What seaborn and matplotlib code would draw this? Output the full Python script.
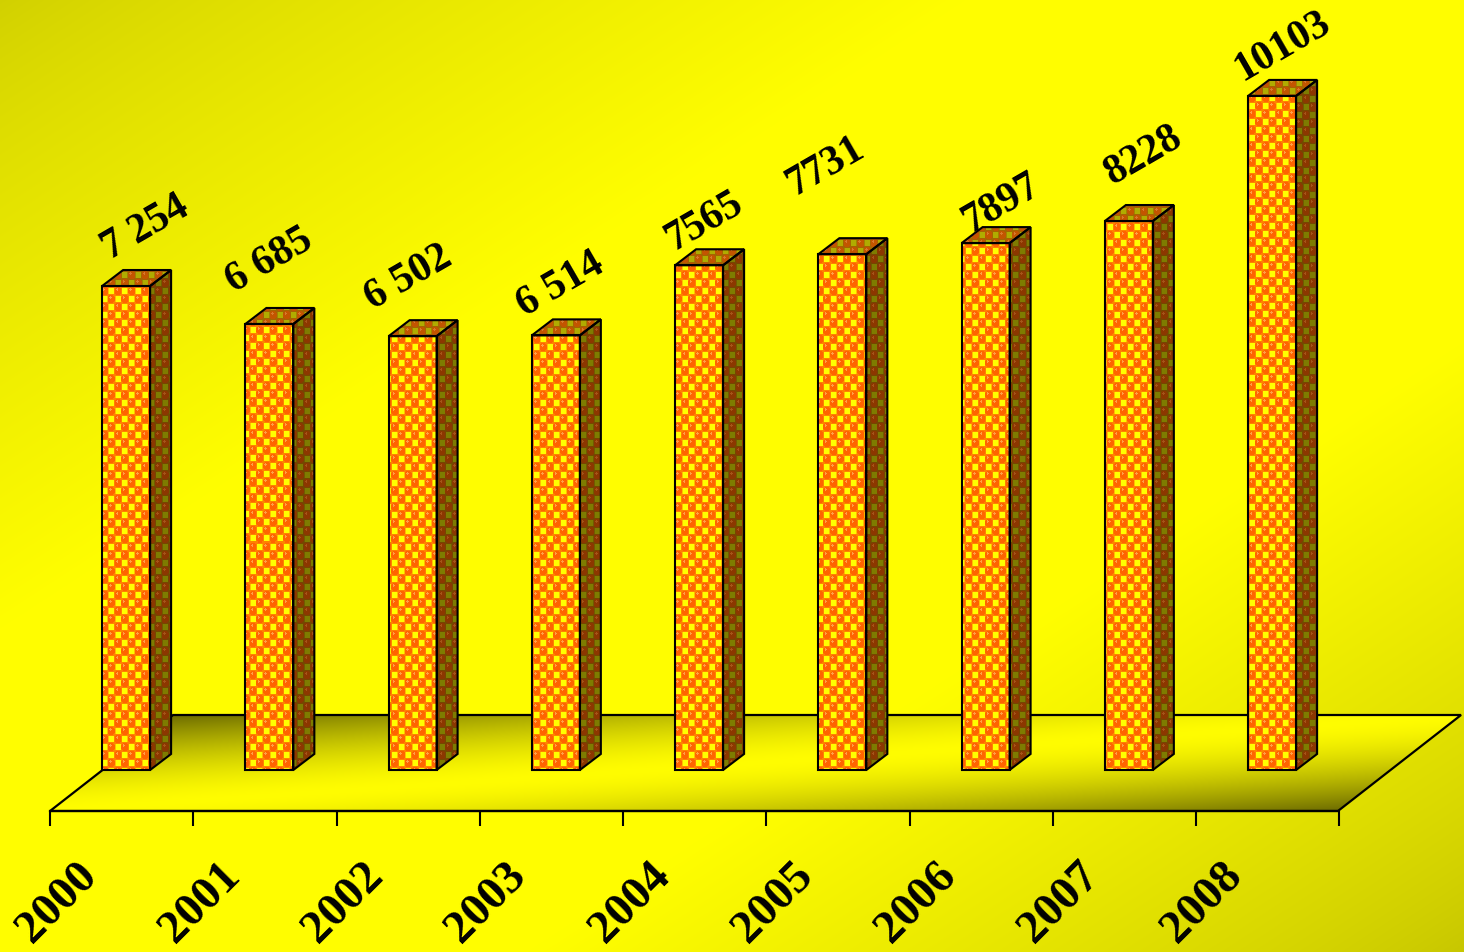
import numpy as np
import pandas as pd
import matplotlib
matplotlib.use("Agg")
import matplotlib.pyplot as plt
from matplotlib.patches import Polygon, Rectangle
import seaborn as sns

# ---------------- data ----------------
years = ["2000", "2001", "2002", "2003", "2004", "2005", "2006", "2007", "2008"]
values = [7254, 6685, 6502, 6514, 7565, 7731, 7897, 8228, 10103]
value_labels = ["7 254", "6 685", "6 502", "6 514", "7565", "7731", "7897", "8228", "10103"]

# ---------------- layout / style ----------------
W, H, DPI = 1464, 953, 100
XLIM = (-0.8803, 9.3396)
YLIM = (-2728.0, 11556.0)
BAR_W = 0.335
DEPTH_X, DEPTH_Y = 0.1466, 240.0          # bar 3-D depth
FLOOR_FRONT_Y, FLOOR_BACK_Y = -614.5, 824.3
FLOOR_LEFT, FLOOR_RIGHT = -0.531, 8.460
FLOOR_DX = 0.859
# label placement nudges (pixels right / up from the bar's top-front centre)
label_nudge_px = [(19, 59), (0, 64), (-4, 59), (5, 51), (5, 45),
                  (-17, 89), (16, 41), (15, 66), (11, 51)]

sns.set_theme(style="white")
plt.rcParams['font.family'] = ['Liberation Serif', 'DejaVu Serif']

fig = plt.figure(figsize=(W / DPI, H / DPI), dpi=DPI)
ax = fig.add_axes([0, 0, 1, 1])
ax.set_facecolor("none")

df = pd.DataFrame({"year": years, "value": values})
sns.barplot(data=df, x="year", y="value", ax=ax, color="#ff8c00", saturation=1,
            width=BAR_W, edgecolor="black", linewidth=1.5, errorbar=None)
bars = [p for p in ax.patches if isinstance(p, Rectangle)]

ax.set_xlim(*XLIM)
ax.set_ylim(*YLIM)
EXT = (XLIM[0], XLIM[1], YLIM[0], YLIM[1])

# ---------------- background gradient ----------------
yy, xx = np.mgrid[0:H, 0:W]
w = (xx / W + yy / H) / 2.0
inten = np.where(w < 0.5,
                 0.82 + 0.18 * np.clip(w / 0.33, 0, 1) ** 0.8,
                 0.78 + 0.22 * np.clip((1 - w) / 0.32, 0, 1) ** 0.8)
bg = np.dstack([inten, inten * 0.995, np.zeros_like(inten)])
ax.imshow(bg, extent=EXT, origin="upper", aspect="auto", zorder=0,
          interpolation="bilinear")

# ---------------- floor ----------------
fl = (FLOOR_LEFT, FLOOR_FRONT_Y)
fr = (FLOOR_RIGHT, FLOOR_FRONT_Y)
br = (FLOOR_RIGHT + FLOOR_DX, FLOOR_BACK_Y)
bl = (FLOOR_LEFT + FLOOR_DX, FLOOR_BACK_Y)
floor = Polygon([fl, fr, br, bl], closed=True, facecolor="none",
                edgecolor="black", lw=1.6, zorder=2.5)
ax.add_patch(floor)

nx, ny = 1500, 120
X = np.linspace(fl[0], br[0], nx)[None, :]
Y = np.linspace(FLOOR_BACK_Y, FLOOR_FRONT_Y, ny)[:, None]
v = (FLOOR_BACK_Y - Y) / (FLOOR_BACK_Y - FLOOR_FRONT_Y)
xl = bl[0] + (fl[0] - bl[0]) * v
xr = br[0] + (fr[0] - br[0]) * v
u = np.clip((X - xl) / (xr - xl), 0, 1)
wf = 0.5 * u + 0.5 * v
dark = np.clip(np.abs(wf - 0.5) / 0.5, 0, 1) ** 1.6
fi = 1 - 0.57 * dark
floor_img = np.dstack([fi, fi * 0.99, np.zeros_like(fi)])
im = ax.imshow(floor_img, extent=(fl[0], br[0], FLOOR_FRONT_Y, FLOOR_BACK_Y),
               origin="upper", aspect="auto", zorder=2, interpolation="bilinear")
im.set_clip_path(Polygon([fl, fr, br, bl], closed=True, transform=ax.transData))

# ---------------- textures ----------------
def texture(base, ring, circ, hi, square, cw=6.75, ch=8.0):
    r = np.arange(H)[:, None] + 0.5
    q = np.arange(W)[None, :] + 0.5
    i = np.floor(r / ch)
    j = np.floor(q / cw)
    a = r - (i + 0.5) * ch
    b = q - (j + 0.5) * cw
    sq_cell = ((i + j) % 2) == 0
    img = np.empty((H, W, 3), np.uint8)
    img[:] = base
    circle = (~sq_cell) & ((a / 4.1) ** 2 + (b / 3.7) ** 2 <= 1.0)
    hil = circle & (((a + 1.5) ** 2 + (b + 1.0) ** 2) <= 1.3)
    rng = sq_cell & (np.abs(a) <= 3.4) & (np.abs(b) <= 3.1)
    sq = sq_cell & (np.abs(a) <= 2.6) & (np.abs(b) <= 2.4)
    img[circle] = circ
    img[hil] = hi
    img[rng] = ring
    img[sq] = square
    return img

tex_front = texture((255, 130, 0), (255, 190, 0), (255, 100, 0), (255, 160, 70), (255, 255, 0))
tex_side = texture((118, 70, 0), (112, 92, 0), (140, 55, 0), (165, 85, 25), (126, 124, 0))
tex_top = texture((165, 100, 0), (160, 132, 0), (195, 85, 0), (215, 122, 45), (176, 172, 0))

for p in bars:
    x0 = p.get_x()
    x1 = x0 + p.get_width()
    h = p.get_height()
    # front face
    p.set_zorder(5)
    p.set_facecolor((0, 0, 0, 0))
    imf = ax.imshow(tex_front, extent=EXT, origin="upper", aspect="auto",
                    zorder=4, interpolation="nearest")
    imf.set_clip_path(p)
    # side face
    side = Polygon([(x1, 0), (x1 + DEPTH_X, DEPTH_Y), (x1 + DEPTH_X, h + DEPTH_Y), (x1, h)],
                   closed=True, facecolor="none", edgecolor="black", lw=1.5,
                   zorder=5, joinstyle="miter")
    ax.add_patch(side)
    ims = ax.imshow(tex_side, extent=EXT, origin="upper", aspect="auto",
                    zorder=4, interpolation="nearest")
    ims.set_clip_path(side)
    # top face
    top = Polygon([(x0, h), (x1, h), (x1 + DEPTH_X, h + DEPTH_Y), (x0 + DEPTH_X, h + DEPTH_Y)],
                  closed=True, facecolor="none", edgecolor="black", lw=1.5,
                  zorder=5, joinstyle="miter")
    ax.add_patch(top)
    imt = ax.imshow(tex_top, extent=EXT, origin="upper", aspect="auto",
                    zorder=4, interpolation="nearest")
    imt.set_clip_path(top)

ax.set_xlim(*XLIM)
ax.set_ylim(*YLIM)

# ---------------- axis / ticks ----------------
for s in ["top", "right", "left"]:
    ax.spines[s].set_visible(False)
ax.spines["bottom"].set_position(("data", FLOOR_FRONT_Y))
ax.spines["bottom"].set_bounds(FLOOR_LEFT, FLOOR_RIGHT)
ax.spines["bottom"].set_color("black")
ax.spines["bottom"].set_linewidth(1.6)
ax.spines["bottom"].set_zorder(3)
ax.set_xticks([FLOOR_LEFT + k for k in range(len(years) + 1)])
ax.set_xticklabels([])
ax.tick_params(axis="x", bottom=True, direction="out", length=10.5, width=1.5,
               color="black")
ax.set_yticks([])
ax.set_xlabel("")
ax.set_ylabel("")

# category labels
for p, yr in zip(bars, years):
    cx = p.get_x() + p.get_width() / 2
    ax.text(cx - 0.482, -1978, yr, rotation=45, rotation_mode="anchor",
            ha="center", va="center", fontsize=34, fontweight="bold",
            color="black", zorder=6)

# value labels
for p, lbl, (nx_, ny_) in zip(bars, value_labels, label_nudge_px):
    cx = p.get_x() + p.get_width() / 2
    ax.annotate(lbl, xy=(cx, p.get_height()), xytext=(nx_ * 0.72, ny_ * 0.72),
                textcoords="offset points", rotation=30, rotation_mode="anchor",
                ha="center", va="center", fontsize=30, fontweight="bold",
                color="black", zorder=6)

fig.savefig("out.png", dpi=DPI)
